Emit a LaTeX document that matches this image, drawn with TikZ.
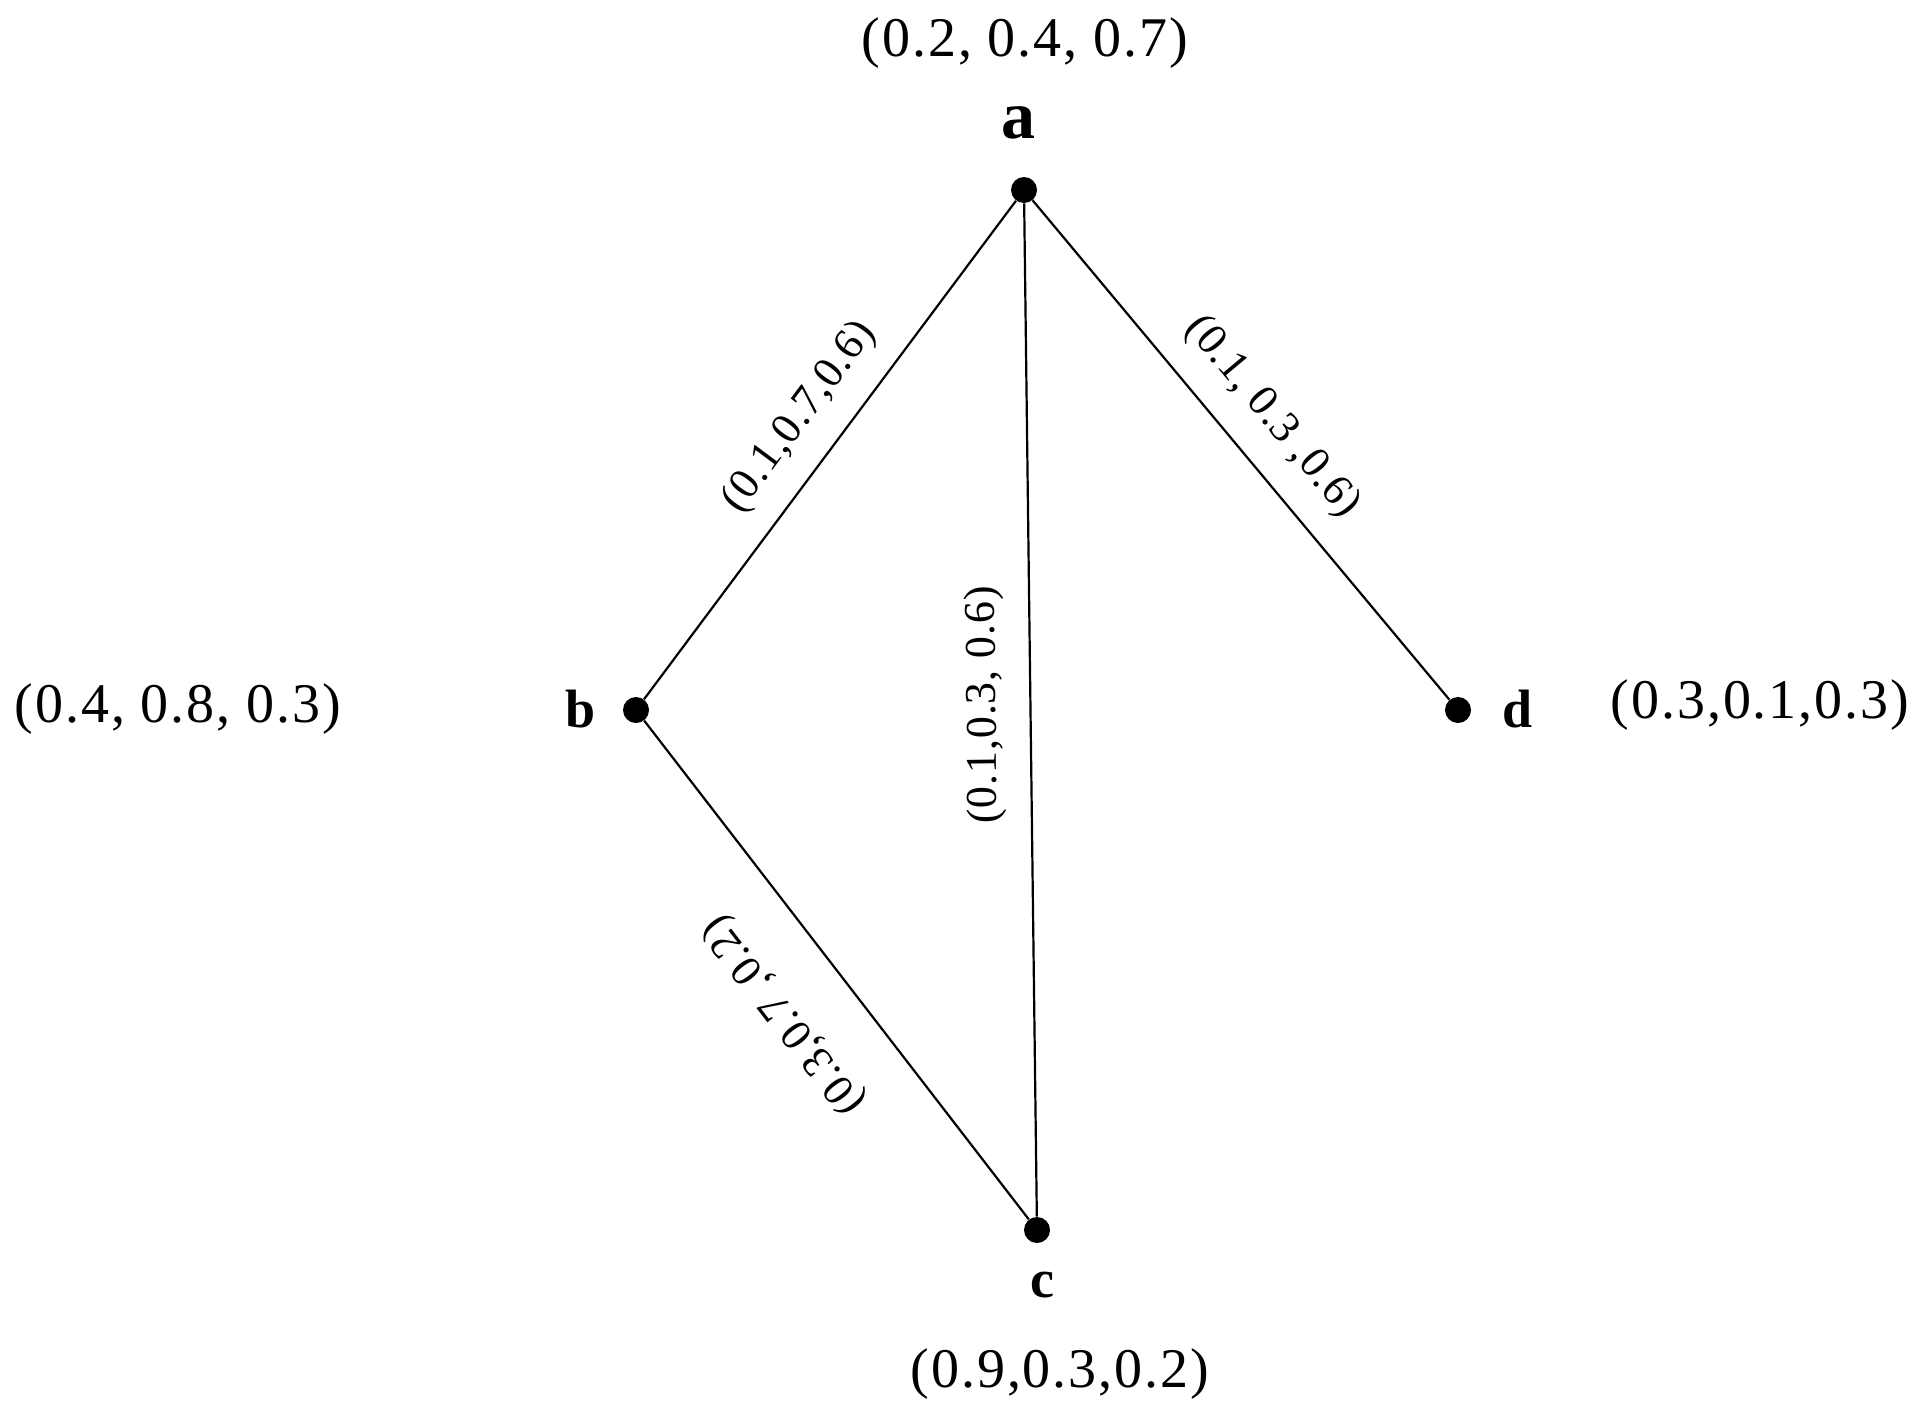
\documentclass[tikz,border=0pt]{standalone}
\usepackage{fontspec}
\setmainfont{Liberation Serif}
\begin{document}
\begin{tikzpicture}[x=0.5pt,y=-0.5pt]
\tikzset{
  vtx/.style={circle,fill=black,inner sep=0pt,minimum size=13pt},
  edge/.style={draw=black,line width=1.1pt},
  vval/.style={inner sep=0pt,font=\fontsize{28}{32}\selectfont\addfontfeature{LetterSpace=3.5}},
  vname/.style={inner sep=0pt,font=\fontsize{27}{32}\selectfont\bfseries},
  elab/.style={inner sep=0pt,font=\fontsize{22}{26}\selectfont\addfontfeature{LetterSpace=2}}
}
\useasboundingbox (0,0) rectangle (1923,1419);
\node[vtx] (a) at (1024,190) {};
\node[vtx] (b) at (636,710) {};
\node[vtx] (c) at (1037,1230) {};
\node[vtx] (d) at (1458,710) {};
\draw[edge] (a) -- (b);
\draw[edge] (a) -- (c);
\draw[edge] (a) -- (d);
\draw[edge] (b) -- (c);
\node[vname,font=\fontsize{34}{36}\selectfont\bfseries] (la) at (1018,123) {a};
\node[vname] (lb) at (581,709) {b};
\node[vname] (lc) at (1042,1285) {c};
\node[vname] (ld) at (1518,709) {d};
\node[vval] (va) at (1025,43) {(0.2, 0.4, 0.7)};
\node[vval] (vb) at (178,709) {(0.4, 0.8, 0.3)};
\node[vval] (vc) at (1060,1374) {(0.9,0.3,0.2)};
\node[vval] (vd) at (1760,705) {(0.3,0.1,0.3)};
\node[elab,rotate=53.3] (eab) at (800,417) {(0.1,0.7,0.6)};
\node[elab,rotate=90.7] (eac) at (985,705) {(0.1,0.3, 0.6)};
\node[elab,rotate=-50.1] (ead) at (1272,417) {(0.1, 0.3 ,0.6)};
\node[elab,rotate=127.6] (ebc) at (785,1015) {(0.3,0.7 ,0.2)};
\end{tikzpicture}
\end{document}
